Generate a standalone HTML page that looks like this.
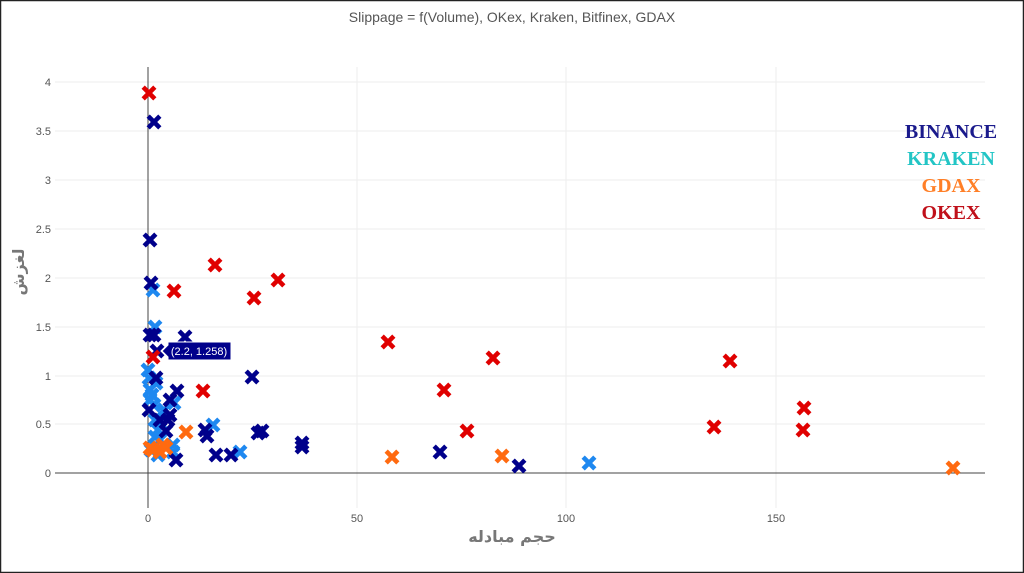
<!DOCTYPE html>
<html><head><meta charset="utf-8"><style>
html,body{margin:0;padding:0;background:#fff}
svg{display:block}
text{font-family:"Liberation Sans","DejaVu Sans",sans-serif}
</style></head><body>
<svg width="1024" height="573" viewBox="0 0 1024 573" xmlns="http://www.w3.org/2000/svg">
<defs>
<path id="x" d="M-4.2,-4.2 L4.2,4.2 M-4.2,4.2 L4.2,-4.2" stroke-width="4.6" stroke-linecap="square"/>
</defs>
<rect x="0.5" y="0.5" width="1023" height="572" fill="#fff" stroke="#222" stroke-width="1.5"/>
<text x="512" y="22" text-anchor="middle" font-size="14" fill="#555">Slippage = f(Volume), OKex, Kraken, Bitfinex, GDAX</text>
<g stroke="#eee" stroke-width="1">
<line x1="55" x2="985" y1="82" y2="82"/><line x1="55" x2="985" y1="131" y2="131"/>
<line x1="55" x2="985" y1="180" y2="180"/><line x1="55" x2="985" y1="229" y2="229"/>
<line x1="55" x2="985" y1="278" y2="278"/><line x1="55" x2="985" y1="327" y2="327"/>
<line x1="55" x2="985" y1="376" y2="376"/><line x1="55" x2="985" y1="424" y2="424"/>
<line x1="357" x2="357" y1="67" y2="508"/><line x1="566" x2="566" y1="67" y2="508"/>
<line x1="776" x2="776" y1="67" y2="508"/>
</g>
<line x1="55" x2="985" y1="473" y2="473" stroke="#444" stroke-width="1"/>
<line x1="148" x2="148" y1="67" y2="508" stroke="#444" stroke-width="1"/>
<g font-size="11" fill="#555" text-anchor="end">
<text x="51" y="86">4</text><text x="51" y="135">3.5</text><text x="51" y="184">3</text>
<text x="51" y="233">2.5</text><text x="51" y="282">2</text><text x="51" y="331">1.5</text>
<text x="51" y="380">1</text><text x="51" y="428">0.5</text><text x="51" y="477">0</text>
</g>
<g font-size="11" fill="#555" text-anchor="middle">
<text x="148" y="522">0</text><text x="357" y="522">50</text><text x="566" y="522">100</text><text x="776" y="522">150</text>
</g>
<text x="512" y="542" text-anchor="middle" font-size="16" font-weight="bold" fill="#777" style="font-family:'DejaVu Sans',sans-serif">حجم مبادله</text>
<text transform="translate(24,272) rotate(-90)" text-anchor="middle" font-size="16" font-weight="bold" fill="#777" style="font-family:'DejaVu Sans',sans-serif">لغزش</text>
<g stroke="#1e88f0">
<use href="#x" x="153" y="290"/><use href="#x" x="155" y="327"/><use href="#x" x="148" y="370"/><use href="#x" x="149" y="378"/><use href="#x" x="150" y="390"/><use href="#x" x="152" y="395"/><use href="#x" x="154" y="405"/><use href="#x" x="156" y="383"/><use href="#x" x="155" y="420"/><use href="#x" x="158" y="430"/><use href="#x" x="155" y="437"/><use href="#x" x="162" y="425"/><use href="#x" x="164" y="410"/><use href="#x" x="174" y="403"/><use href="#x" x="213" y="425"/><use href="#x" x="240" y="452"/><use href="#x" x="173" y="445"/><use href="#x" x="173" y="452"/><use href="#x" x="589" y="463"/><use href="#x" x="151" y="450"/><use href="#x" x="158" y="455"/><use href="#x" x="150" y="400"/><use href="#x" x="160" y="440"/>
</g>
<g stroke="#00008b">
<use href="#x" x="154" y="122"/><use href="#x" x="150" y="240"/><use href="#x" x="151" y="283"/><use href="#x" x="150" y="335"/><use href="#x" x="154" y="335"/><use href="#x" x="157" y="351"/><use href="#x" x="185" y="337"/><use href="#x" x="252" y="377"/><use href="#x" x="177" y="391"/><use href="#x" x="170" y="400"/><use href="#x" x="168" y="420"/><use href="#x" x="170" y="415"/><use href="#x" x="205" y="430"/><use href="#x" x="207" y="436"/><use href="#x" x="216" y="455"/><use href="#x" x="231" y="455"/><use href="#x" x="258" y="433"/><use href="#x" x="262" y="431"/><use href="#x" x="302" y="443"/><use href="#x" x="302" y="447"/><use href="#x" x="440" y="452"/><use href="#x" x="519" y="466"/><use href="#x" x="176" y="460"/><use href="#x" x="149" y="410"/><use href="#x" x="156" y="378"/><use href="#x" x="166" y="431"/><use href="#x" x="160" y="420"/>
</g>
<g stroke="#ff6a10">
<use href="#x" x="150" y="448"/><use href="#x" x="153" y="450"/><use href="#x" x="160" y="452"/><use href="#x" x="166" y="448"/><use href="#x" x="186" y="432"/><use href="#x" x="392" y="457"/><use href="#x" x="502" y="456"/><use href="#x" x="953" y="468"/><use href="#x" x="163" y="445"/>
</g>
<g stroke="#e00000">
<use href="#x" x="149" y="93"/><use href="#x" x="174" y="291"/><use href="#x" x="215" y="265"/><use href="#x" x="254" y="298"/><use href="#x" x="278" y="280"/><use href="#x" x="153" y="357"/><use href="#x" x="203" y="391"/><use href="#x" x="388" y="342"/><use href="#x" x="444" y="390"/><use href="#x" x="493" y="358"/><use href="#x" x="467" y="431"/><use href="#x" x="730" y="361"/><use href="#x" x="714" y="427"/><use href="#x" x="804" y="408"/><use href="#x" x="803" y="430"/>
</g>
<path d="M162,351 L168,345 L168,342 L231,342 L231,360 L168,360 L168,357 Z" fill="#00008b" stroke="#fff" stroke-width="1"/>
<text x="199" y="355" text-anchor="middle" font-size="11" fill="#fff">(2.2, 1.258)</text>
<g font-size="20" font-weight="bold" text-anchor="middle">
<text x="951" y="138" fill="#1a1a8c" style="font-family:'Liberation Serif',serif">BINANCE</text>
<text x="951" y="165" fill="#22c5c5" style="font-family:'Liberation Serif',serif">KRAKEN</text>
<text x="951" y="192" fill="#ff7f27" style="font-family:'Liberation Serif',serif">GDAX</text>
<text x="951" y="219" fill="#c0101a" style="font-family:'Liberation Serif',serif">OKEX</text>
</g>
</svg>
</body></html>
